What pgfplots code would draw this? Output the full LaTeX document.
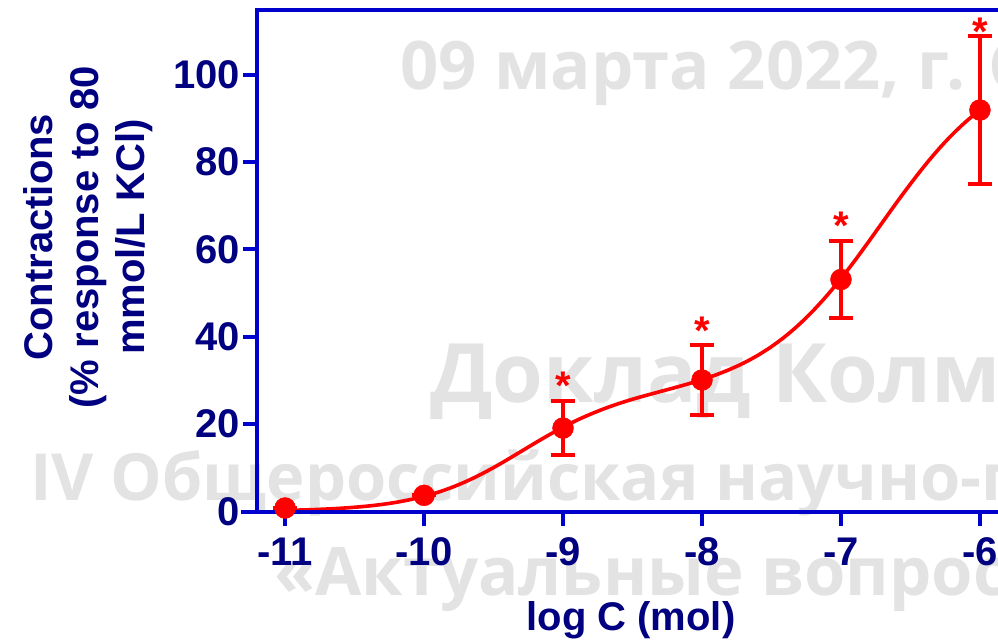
\documentclass[border=0pt]{standalone}
\usepackage{pgfplots}
\pgfplotsset{compat=1.18}
\usepackage{fontspec}
\setmainfont{Liberation Sans}
\newfontfamily\wm{Open Sans}
\definecolor{axblue}{HTML}{0000CC}
\definecolor{navy}{HTML}{000080}
\definecolor{wmgray}{HTML}{E3E3E3}
\begin{document}
\begin{tikzpicture}
\useasboundingbox (0pt,0pt) rectangle (998pt,641pt);
\clip (0pt,0pt) rectangle (998pt,641pt);
\begin{scope}[every node/.style={inner sep=0pt, anchor=base west, text=wmgray, font=\wm\bfseries\fontsize{67}{67}\selectfont}]
\node at (400pt,551pt) {09 марта 2022, г. С};
\node[font=\wm\bfseries\fontsize{82}{82}\selectfont] at (430pt,239pt) {Доклад Колм};
\node[font=\wm\bfseries\fontsize{65}{65}\selectfont] at (30pt,141pt) {IV Общероссийская научно-практическая};
\node at (274pt,46pt) {«Актуальные вопросы};
\end{scope}
\begin{axis}[
  at={(257.3pt,129.5pt)}, anchor=south west,
  scale only axis, width=740.7pt, height=501.5pt,
  xmin=-11.2, xmax=-5.87, ymin=0, ymax=114.8,
  clip=false,
  axis line style={draw=none},
  xtick={-11,-10,-9,-8,-7,-6}, xticklabels={-11,-10,-9,-8,-7,-6},
  ytick={0,20,40,60,80,100},
  tick align=outside, tick pos=left,
  major tick length=14pt,
  tick style={axblue, line width=4pt},
  ticklabel style={text=navy, font=\bfseries\fontsize{40}{40}\selectfont},
  xticklabel style={yshift=-9pt},
  /pgf/number format/assume math mode=true,
  xlabel={log C (mol)},
  ylabel={Contractions\\(\% response to 80\\mmol/L KCl)},
  label style={text=navy, font=\bfseries\fontsize{40}{46}\selectfont},
  ylabel style={at={(axis description cs:-0.2286,0.547)}, anchor=center, align=center},
  xlabel style={at={(axis description cs:0.5045,-0.238)}, anchor=base},
]
% fitted curve
\addplot[red, line width=3.6pt, smooth, no marks] coordinates {
(-11.0,0.25) (-10.9,0.33) (-10.8,0.43) (-10.7,0.57) (-10.6,0.74) (-10.5,0.97)
(-10.4,1.26) (-10.3,1.63) (-10.2,2.11) (-10.1,2.72) (-10.0,3.47) (-9.9,4.40)
(-9.8,5.52) (-9.7,6.84) (-9.6,8.36) (-9.5,10.05) (-9.4,11.88) (-9.3,13.79)
(-9.2,15.70) (-9.1,17.55) (-9.0,19.30) (-8.9,20.90) (-8.8,22.31) (-8.7,23.58)
(-8.6,24.70) (-8.5,25.70) (-8.4,26.60) (-8.3,27.46) (-8.2,28.32) (-8.1,29.21)
(-8.0,30.18) (-7.9,31.27) (-7.8,32.53) (-7.7,33.99) (-7.6,35.72) (-7.5,37.75)
(-7.4,40.11) (-7.3,42.85) (-7.2,45.97) (-7.1,49.47) (-7.0,53.32) (-6.9,57.45)
(-6.8,61.81) (-6.7,66.26) (-6.6,70.70) (-6.5,74.99) (-6.4,79.07) (-6.3,82.85)
(-6.2,86.26) (-6.1,89.27) (-6.0,91.90)};
% means with SEM
\addplot[red, only marks, mark=*, mark size=10.5pt, mark options={fill=red, draw=red},
  error bars/.cd, y dir=both, y explicit,
  error bar style={red, line width=4pt},
  error mark options={rotate=90, red, mark size=12pt, line width=4pt}]
  coordinates {
(-11,0.8) +- (0,0)
(-10,3.7) +- (0,0)
(-9,19.1) +- (0,6.2)
(-8,30.1) +- (0,8.0)
(-7,53.1) +- (0,8.8)
(-6,91.9) +- (0,17.0)};
% axis lines
\draw[axblue, line width=4pt] (axis cs:-11.315,0) -- (axis cs:-5.87,0);
\draw[axblue, line width=4pt] (axis cs:-11.2,0) -- (axis cs:-11.2,115.25);
\draw[axblue, line width=4pt] (axis cs:-11.2145,114.8) -- (axis cs:-5.87,114.8);
% significance marks
\begin{scope}[every node/.style={text=red, font=\bfseries\fontsize{40}{40}\selectfont, anchor=base, inner sep=0pt, yshift=-23pt}]
\node at (axis cs:-9,30.8) {*};
\node at (axis cs:-8,43.6) {*};
\node at (axis cs:-7,67.6) {*};
\node at (axis cs:-6,112.0) {*};
\end{scope}
\end{axis}
\end{tikzpicture}
\end{document}
